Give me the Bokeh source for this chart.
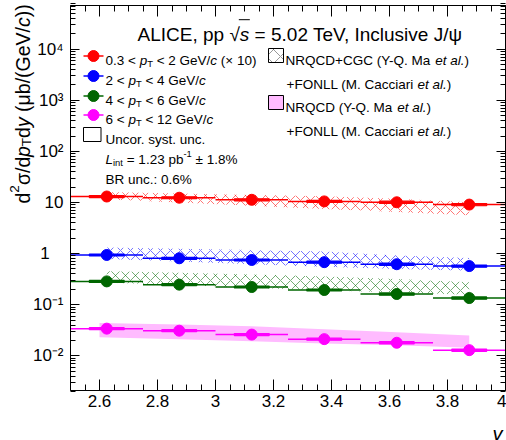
import numpy as np
from bokeh.plotting import figure
from bokeh.models import (Range1d, FixedTicker, LinearAxis, LogAxis, Label,
                          CustomJSTickFormatter)
from bokeh.embed import file_html
from bokeh.resources import INLINE

# ---------------- data ----------------
# rapidity bins
bin_lo = [2.5, 2.75, 3.0, 3.25, 3.5, 3.75]
bin_hi = [2.75, 3.0, 3.25, 3.5, 3.75, 4.0]
y_mid = [2.625, 2.875, 3.125, 3.375, 3.625, 3.875]

# d2sigma/dpT dy (mub/(GeV/c)); lowest pT interval is drawn x10
scale_low = 10.0
xs_pt03_2 = [1.31, 1.24, 1.13, 1.05, 1.01, 0.91]
xs_pt2_4 = [0.94, 0.81, 0.75, 0.68, 0.62, 0.57]
xs_pt4_6 = [0.286, 0.247, 0.222, 0.194, 0.162, 0.135]
xs_pt6_12 = [0.034, 0.031, 0.026, 0.0212, 0.018, 0.0129]

# relative statistical and uncorrelated systematic uncertainties
stat_rel = [0.02, 0.02, 0.02, 0.025, 0.03, 0.035]
syst_rel = [0.045, 0.045, 0.045, 0.045, 0.05, 0.05]

# NRQCD+CGC + FONLL bands (low / high)
cgc_y = [2.625, 2.875, 3.125, 3.375, 3.625, 3.875]
cgc_pt03_2_lo = [1.14, 1.00, 0.86, 0.75, 0.65, 0.56]
cgc_pt03_2_hi = [1.60, 1.50, 1.40, 1.33, 1.18, 1.01]
cgc_pt2_4_lo = [0.78, 0.70, 0.62, 0.55, 0.50, 0.46]
cgc_pt2_4_hi = [1.31, 1.25, 1.18, 1.10, 0.92, 0.82]
cgc_pt4_6_lo = [0.27, 0.245, 0.215, 0.19, 0.175, 0.157]
cgc_pt4_6_hi = [0.45, 0.42, 0.39, 0.355, 0.32, 0.275]

# NRQCD + FONLL band for 6 < pT < 12 GeV/c
nrqcd_y = [2.6, 2.875, 3.125, 3.375, 3.625, 3.875]
nrqcd_pt6_12_lo = [0.023, 0.021, 0.0193, 0.0175, 0.016, 0.0144]
nrqcd_pt6_12_hi = [0.044, 0.041, 0.038, 0.033, 0.029, 0.025]

# axis ticks
x_major = [2.6, 2.8, 3.0, 3.2, 3.4, 3.6, 3.8, 4.0]
x_minor = [round(2.5 + 0.05 * i, 2) for i in range(31)]
x_labels = {3.0: "3", 4.0: "4"}
y_major = [1e-2, 1e-1, 1.0, 10.0, 100.0, 1000.0, 10000.0]
y_minor = [k * 10.0 ** e for e in range(-3, 5) for k in range(2, 10)]
y_labels = {1e-2: "10\u207b\u00b2", 1e-1: "10\u207b\u00b9", 1.0: "1\u2007\u2005",
            10.0: "10", 100.0: "10\u00b2", 1000.0: "10\u00b3", 10000.0: "10\u2074"}

# ---------------- layout ----------------
W_PX, H_PX = 506, 440
FL, FR, FT, FB = 70, 505, 5, 390          # plot box edges in canvas pixels
XMIN, XMAX = 2.5, 4.0
LTOP, LBOT = 4.855, -2.679                 # log10 of the plot box y limits
FONT = "Liberation Sans"

RED, BLUE, GREEN, MAG = "#ff0000", "#0000ff", "#006600", "#ff00ff"
PINK = "#ffbbff"


def to_x(px):
    return XMIN + (px - FL) / (FR - FL) * (XMAX - XMIN)


def to_y(py):
    return 10 ** (LTOP - (py - FT) / (FB - FT) * (LTOP - LBOT))


# the drawing area covers the whole canvas; the axes are pinned to the plot box
p = figure(width=W_PX, height=H_PX, x_range=Range1d(to_x(0), to_x(W_PX)),
           y_range=Range1d(to_y(H_PX), to_y(0)), y_axis_type="log",
           output_backend="svg", toolbar_location=None,
           min_border_left=0, min_border_right=0, min_border_top=0,
           min_border_bottom=0)
p.title.visible = False
p.grid.visible = False
p.outline_line_color = None
p.background_fill_color = "white"
p.border_fill_color = "white"

YBOT, YTOP = 10 ** LBOT, 10 ** LTOP


def style_axis(ax, ticker, major_in, minor_in, loc, bounds, labels=None, show=True):
    ax.ticker = ticker
    ax.fixed_location = loc
    ax.bounds = bounds
    ax.major_tick_in = major_in
    ax.major_tick_out = 0
    ax.minor_tick_in = minor_in
    ax.minor_tick_out = 0
    ax.axis_line_color = "black"
    ax.axis_line_width = 1
    ax.major_tick_line_color = "black"
    ax.minor_tick_line_color = "black"
    ax.axis_label = None
    ax.major_label_text_font = FONT
    ax.major_label_text_font_size = "17px"
    ax.major_label_text_color = "black"
    if show:
        if labels:
            ax.major_label_overrides = labels
    else:
        ax.formatter = CustomJSTickFormatter(code="return ''")
        ax.major_label_standoff = 0


xt = FixedTicker(ticks=x_major, minor_ticks=x_minor)
yt = FixedTicker(ticks=y_major, minor_ticks=y_minor)
style_axis(p.xaxis[0], xt, 11, 6, YBOT, (XMIN, XMAX), x_labels)
p.xaxis[0].major_label_standoff = 4
style_axis(p.yaxis[0], yt, 9, 5, XMIN, (YBOT, YTOP), y_labels)
p.yaxis[0].major_label_standoff = 7

top_ax = LinearAxis()
style_axis(top_ax, xt, 11, 6, YTOP, (XMIN, XMAX), show=False)
p.add_layout(top_ax, "above")
right_ax = LogAxis()
style_axis(right_ax, yt, 9, 5, XMAX, (YBOT, YTOP), show=False)
p.add_layout(right_ax, "right")

# ---------------- model bands ----------------
p.varea(x=nrqcd_y, y1=nrqcd_pt6_12_lo, y2=nrqcd_pt6_12_hi, fill_color=PINK, fill_alpha=1.0)

for lo, hi, col, f in [(cgc_pt03_2_lo, cgc_pt03_2_hi, RED, scale_low),
                       (cgc_pt2_4_lo, cgc_pt2_4_hi, BLUE, 1.0),
                       (cgc_pt4_6_lo, cgc_pt4_6_hi, GREEN, 1.0)]:
    p.varea(x=cgc_y, y1=[v * f for v in lo], y2=[v * f for v in hi],
            fill_alpha=0.0, hatch_pattern="x", hatch_color=col, hatch_alpha=0.6,
            hatch_scale=10, hatch_weight=0.9)

# ---------------- data points ----------------
for vals, col, f in [(xs_pt03_2, RED, scale_low), (xs_pt2_4, BLUE, 1.0),
                     (xs_pt4_6, GREEN, 1.0), (xs_pt6_12, MAG, 1.0)]:
    v = np.array(vals) * f
    s = np.array(syst_rel)
    st = np.array(stat_rel)
    # bin widths
    p.segment(x0=bin_lo, x1=bin_hi, y0=v, y1=v, line_color=col, line_width=1.5)
    # uncorrelated systematic boxes
    p.quad(left=np.array(y_mid) - 0.06, right=np.array(y_mid) + 0.06,
           bottom=v * (1 - s), top=v * (1 + s), fill_color=col, line_color=col,
           line_width=1.2)
    # statistical errors
    p.segment(x0=y_mid, x1=y_mid, y0=v * (1 - st), y1=v * (1 + st), line_color=col,
              line_width=1.5)
    p.scatter(x=y_mid, y=v, size=11, marker="circle", fill_color=col, line_color=col)

# ---------------- text ----------------
W = {' ': .278, '!': .278, '%': .889, '(': .333, ')': .333, '+': .584, ',': .278,
     '-': .333, '.': .278, '/': .278, ':': .278, '<': .584, '=': .584, '>': .584,
     '\u00b1': .584, '\u00d7': .584, '\u221a': .549, '\u03c3': .6, '\u03bc': .576,
     '\u03c8': .72,
     'A': .667, 'B': .667, 'C': .722, 'D': .722, 'E': .667, 'F': .611, 'G': .778,
     'H': .722, 'I': .278, 'J': .5, 'K': .667, 'L': .556, 'M': .833, 'N': .722,
     'O': .778, 'P': .667, 'Q': .778, 'R': .722, 'S': .667, 'T': .611, 'U': .722,
     'V': .667, 'W': .944, 'X': .667, 'Y': .667, 'Z': .611,
     'a': .556, 'b': .556, 'c': .5, 'd': .556, 'e': .556, 'f': .278, 'g': .556,
     'h': .556, 'i': .222, 'j': .222, 'k': .5, 'l': .222, 'm': .833, 'n': .556,
     'o': .556, 'p': .556, 'q': .556, 'r': .333, 's': .5, 't': .278, 'u': .556,
     'v': .5, 'w': .722, 'x': .5, 'y': .5, 'z': .5}


def rich(segs, px, py, size, color="black", align="left", angle=0.0):
    """Place text pieces (normal / italic / sub / sup) one after another."""
    items = []
    for text, kind in segs:
        s = size * 0.7 if kind in ("sub", "sup") else size
        w = sum(W.get(c, 0.556) for c in text) * s
        items.append((text, kind, s, w))
    total = sum(i[3] for i in items)
    pos = -total if align == "right" else (-total / 2 if align == "center" else 0.0)
    out = []
    for text, kind, s, w in items:
        lead = (len(text) - len(text.lstrip(" "))) * W[" "] * s
        body = text.strip(" ")
        shift = 0.22 * size if kind == "sub" else (-0.4 * size if kind == "sup" else 0.0)
        style = "italic" if kind == "i" else "normal"
        along = pos + lead
        if angle == 0:
            x, y = px + along, py + shift
        else:
            x, y = px + shift, py - along
        if body:
            p.add_layout(Label(x=to_x(x), y=to_y(y), text=body, text_font=FONT,
                               text_font_size=f"{s:.1f}px", text_font_style=style,
                               text_color=color, text_align="left",
                               text_baseline="alphabetic", angle=angle))
        out.append((x, y, w - lead))
        pos += w
    return out


# title
t = rich([("ALICE, pp ", "n"), ("\u221a", "n"), ("s", "i"),
          (" = 5.02 TeV, Inclusive J/\u03c8", "n")], 137, 33.5, 19)
sx, sy, sw = t[2]
p.line(x=[to_x(sx - 1), to_x(sx + sw + 0.5)], y=[to_y(sy - 14.3)] * 2,
       line_color="black", line_width=1)

# y-axis title (rotated)
rich([("d", "n"), ("2", "sup"), ("\u03c3/d", "n"), ("p", "i"), ("T", "sub"),
      ("d", "n"), ("y", "i"), (" (\u03bcb/(GeV/", "n"), ("c", "i"), ("))", "n")],
     22, 203, 19.5, angle=np.pi / 2)

# x-axis title
rich([("y", "i")], 502, 433, 20, align="right")

# left legend
FS = 13.5
rows = [55.5, 75.5, 95.5, 114.5]
entries = [
    ([("0.3 < ", "n"), ("p", "i"), ("T", "sub"), (" < 2 GeV/", "n"), ("c", "i"),
      (" (\u00d7 10)", "n")], RED),
    ([("2 < ", "n"), ("p", "i"), ("T", "sub"), (" < 4 GeV/", "n"), ("c", "i")], BLUE),
    ([("4 < ", "n"), ("p", "i"), ("T", "sub"), (" < 6 GeV/", "n"), ("c", "i")], GREEN),
    ([("6 < ", "n"), ("p", "i"), ("T", "sub"), (" < 12 GeV/", "n"), ("c", "i")], MAG),
]
for ry, (segs, col) in zip(rows, entries):
    p.line(x=[to_x(83), to_x(103)], y=[to_y(ry)] * 2, line_color=col, line_width=1.5)
    p.scatter(x=[to_x(93)], y=[to_y(ry)], size=11, marker="circle", fill_color=col,
              line_color=col)
    rich(segs, 105, ry + 4.9, FS)

p.quad(left=[to_x(83)], right=[to_x(100.5)], top=[to_y(127)], bottom=[to_y(141)],
       fill_color=None, line_color="black", line_width=1)
rich([("Uncor. syst. unc.", "n")], 105, 134 + 4.9, FS)
rich([("L", "i"), ("int", "sub"), (" = 1.23 pb", "n"), ("-1", "sup"),
      (" \u00b1 1.8%", "n")], 105, 154 + 4.9, FS)
rich([("BR unc.: 0.6%", "n")], 105, 174 + 4.9, FS)

# right legend
p.quad(left=[to_x(268)], right=[to_x(283)], top=[to_y(48)], bottom=[to_y(62)],
       fill_color=None, line_color="black", line_width=1, hatch_pattern="x",
       hatch_color="#444444", hatch_alpha=0.8, hatch_scale=14, hatch_weight=0.7)
rich([("NRQCD+CGC (Y-Q. Ma ", "n"), ("et al.", "i"), (")", "n")], 285, 55 + 4.9, FS)
rich([("+FONLL (M. Cacciari ", "n"), ("et al.", "i"), (")", "n")], 286, 79 + 4.9, FS)
p.quad(left=[to_x(268)], right=[to_x(283)], top=[to_y(95)], bottom=[to_y(109)],
       fill_color=PINK, line_color="black", line_width=1)
rich([("NRQCD (Y-Q. Ma ", "n"), ("et al.", "i"), (")", "n")], 285, 102 + 4.9, FS)
rich([("+FONLL (M. Cacciari ", "n"), ("et al.", "i"), (")", "n")], 286, 126 + 4.9, FS)

# figure id
rich([("ALI-PUB-535848", "n")], 12, 445, 12, color="#aaaaaa")

open("out.html", "w").write(file_html(p, INLINE))
